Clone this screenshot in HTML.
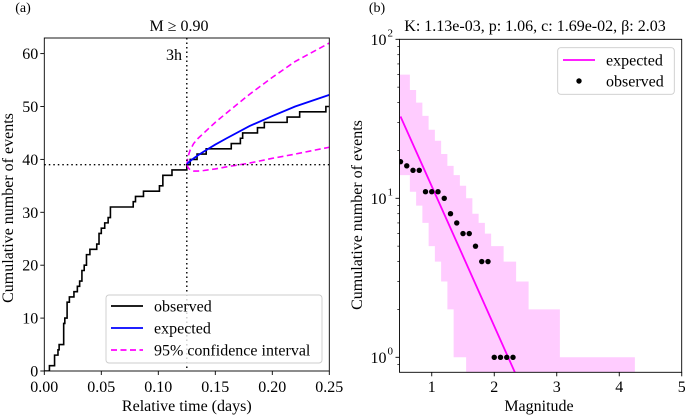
<!DOCTYPE html>
<html><head><meta charset="utf-8">
<style>
html,body{margin:0;padding:0;background:#fff;}
svg, svg text{font-family:"Liberation Serif","Times New Roman",serif;}
</style></head>
<body>
<svg id="fig" width="685" height="415" viewBox="0 0 685 415" xmlns="http://www.w3.org/2000/svg" font-family="Liberation Serif, serif">
<g id="left"></g>
<g id="right"></g>
</svg>
<script>
// ---- Panel (a) data ----
const obsCounts = [0,1,3,4,5,9,10,13,14,15,16,17,19,20,22,23,24,26,27,28,29,31,32,33,34,35,37,38,39,40,41,42,43,44,45,46,47,48,49,50];
const obsTimes  = [0,0.0045,0.009,0.012,0.013,0.017,0.018,0.020,0.022,0.026,0.029,0.031,0.033,0.035,0.037,0.040,0.046,0.048,0.050,0.053,0.056,0.058,0.078,0.080,0.087,0.101,0.104,0.112,0.125,0.128,0.134,0.142,0.164,0.172,0.174,0.187,0.193,0.213,0.224,0.247];
const fcTimes   = [0.125,0.126,0.128,0.131,0.135,0.14,0.15,0.16,0.18,0.20,0.22,0.25];
const expVals   = [39,39.3,39.7,40.2,40.8,41.5,42.8,44,46.3,48.2,50,52.2];
const upperVals = [39,40.5,41.8,43,44,45,47,48.8,52.3,55.5,58.5,62];
const lowerVals = [39,38.5,38,37.8,37.8,37.9,38.2,38.6,39.3,40.2,41,42.3];
const xTicksA = [0,0.05,0.10,0.15,0.20,0.25];
const xTickLabelsA = ["0.00","0.05","0.10","0.15","0.20","0.25"];
const yTicksA = [0,10,20,30,40,50,60];
const tCut = 0.125, nCut = 39;

// ---- Panel (b) data ----
const bandMags  = [0.5,0.6,0.7,0.8,0.9,1.0,1.1,1.2,1.3,1.4,1.5,1.6,1.7,1.8,1.9,2.0,2.1,2.2,2.3,2.4,2.5,2.6,2.7,2.8,2.9,3.0,3.1,3.2,3.3,3.4,3.5,3.6,3.7,3.8,3.9,4.0,4.1,4.2];
const bandUpper = [60,60,48,40,33,27,23,19,16,14,12,10,8,7,6,5,5,4,4,3,3,2,2,2,2,2,1,1,1,1,1,1,1,1,1,1,1,1];
const bandLower = [14,14,11,9,7,5,4,3,2,1,1,0.5,0.5,0.5,0.5,0.5,0.5,0.5,0.5,0.5,0.5,0.5,0.5,0.5,0.5,0.5,0.5,0.5,0.5,0.5,0.5,0.5,0.5,0.5,0.5,0.5,0.5,0.5];
const obsMags   = [0.5,0.6,0.7,0.8,0.9,1.0,1.1,1.2,1.3,1.4,1.5,1.6,1.7,1.8,1.9,2.0,2.1,2.2,2.3];
const obsN      = [17,16,15,15,11,11,11,10,8,7,6,6,5,4,4,1,1,1,1];
const expMags   = [0.5,1.0,1.5,2.0,2.5];
const expN      = [32.7,11.9,4.33,1.57,0.57];
const xTicksB = [1,2,3,4,5];
const yDecB = [0,1,2];

const NS="http://www.w3.org/2000/svg";
const FF="Liberation Serif, Times New Roman, serif";
function mk(parent,tag,attrs,text){const el=document.createElementNS(NS,tag);for(const k in attrs)el.setAttribute(k,attrs[k]);if(tag==='text')el.setAttribute('font-family',FF);if(text!==undefined)el.textContent=text;parent.appendChild(el);return el;}

// ===== Panel A =====
const A=document.getElementById('left');
const ax={l:44.3,r:329.3,t:38,b:371};
const xA=t=>ax.l+(t/0.25)*(ax.r-ax.l);
const yA=n=>371-n*5.29;
let cp=mk(A,'clipPath',{id:'clipA'});mk(cp,'rect',{x:ax.l,y:ax.t,width:ax.r-ax.l,height:ax.b-ax.t});
let stepD=`M${xA(obsTimes[0])},${yA(obsCounts[0])}`;
for(let i=1;i<obsTimes.length;i++){stepD+=` H${xA(obsTimes[i])} V${yA(obsCounts[i])}`;}
stepD+=` H${xA(0.25)}`;
let e=mk(A,'path',{d:stepD,fill:'none',stroke:'#000','stroke-width':1.6,'clip-path':'url(#clipA)'});

const lineA=(vals)=>fcTimes.map((t,i)=>`${i?'L':'M'}${xA(t)},${yA(vals[i])}`).join(' ');
e=mk(A,'path',{d:lineA(upperVals),fill:'none',stroke:'#ff00ff','stroke-width':1.6,'stroke-dasharray':'6,3.5'});

e=mk(A,'path',{d:lineA(lowerVals),fill:'none',stroke:'#ff00ff','stroke-width':1.6,'stroke-dasharray':'6,3.5'});

e=mk(A,'path',{d:lineA(expVals),fill:'none',stroke:'#0000ff','stroke-width':1.8});

e=mk(A,'line',{x1:xA(tCut),x2:xA(tCut),y1:ax.t,y2:ax.b,stroke:'#000','stroke-width':1.4,'stroke-dasharray':'1.5,3'});

e=mk(A,'line',{x1:ax.l,x2:ax.r,y1:yA(nCut),y2:yA(nCut),stroke:'#000','stroke-width':1.4,'stroke-dasharray':'1.5,3'});

e=mk(A,'rect',{x:ax.l,y:ax.t,width:ax.r-ax.l,height:ax.b-ax.t,fill:'none',stroke:'#000','stroke-width':0.9});

xTicksA.forEach((t,i)=>{mk(A,'line',{x1:xA(t),x2:xA(t),y1:ax.b,y2:ax.b+4,stroke:'#000','stroke-width':0.9});
 e=mk(A,'text',{x:xA(t),y:392,'text-anchor':'middle','font-size':16},xTickLabelsA[i]);
 });
yTicksA.forEach(v=>{mk(A,'line',{x1:ax.l-4,x2:ax.l,y1:yA(v),y2:yA(v),stroke:'#000','stroke-width':0.9});
 e=mk(A,'text',{x:ax.l-6,y:yA(v)+5.5,'text-anchor':'end','font-size':16},String(v));
 });
e=mk(A,'text',{x:(ax.l+ax.r)/2,y:411,'text-anchor':'middle','font-size':16},'Relative time (days)');

e=mk(A,'text',{x:0,y:0,'text-anchor':'middle','font-size':16,transform:'translate(13,208) rotate(-90)'},'Cumulative number of events');

e=mk(A,'text',{x:179,y:31,'text-anchor':'middle','font-size':16},'M ≥ 0.90');

e=mk(A,'text',{x:23,y:12,'text-anchor':'middle','font-size':14},'(a)');

e=mk(A,'text',{x:182,y:60,'text-anchor':'end','font-size':16},'3h');

let lg=mk(A,'g',{});

mk(lg,'rect',{x:106,y:295,width:216,height:68,rx:3,fill:'#fff','fill-opacity':0.8,stroke:'#ccc','stroke-width':0.9});
const legA=[['observed','#000',''],['expected','#0000ff',''],['95% confidence interval','#ff00ff','6,3.5']];
legA.forEach((L,i)=>{const yy=306+i*22;
 const gg=mk(lg,'g',{});
 mk(gg,'line',{x1:111,x2:143,y1:yy,y2:yy,stroke:L[1],'stroke-width':1.8,'stroke-dasharray':L[2]||'none'});
 mk(gg,'text',{x:154,y:yy+5.5,'font-size':16},L[0]);});

// ===== Panel B =====
const B=document.getElementById('right');
const bx={l:399.5,r:681.7,t:39.3,b:372.3};
const xB=m=>400.5+(m-0.5)*62.5;
const yB=v=>357.3-Math.log10(v)*159;
cp=mk(B,'clipPath',{id:'clipB'});mk(cp,'rect',{x:bx.l,y:bx.t,width:bx.r-bx.l,height:bx.b-bx.t});
const gB=mk(B,'g',{'clip-path':'url(#clipB)'});
let bandTop='',bandBot='';
bandMags.forEach((m,i)=>{const x0=xB(m-0.05),x1=xB(m+0.05);
 bandTop+=`${i?'L':'M'}${x0},${yB(bandUpper[i])} L${x1},${yB(bandUpper[i])} `;});
for(let i=bandMags.length-1;i>=0;i--){const m=bandMags[i];bandBot+=`L${xB(m+0.05)},${yB(bandLower[i])} L${xB(m-0.05)},${yB(bandLower[i])} `;}
e=mk(gB,'path',{d:bandTop+bandBot+'Z',fill:'#ffccff',stroke:'none'});

e=mk(gB,'path',{d:expMags.map((m,i)=>`${i?'L':'M'}${xB(m)},${yB(expN[i])}`).join(' '),fill:'none',stroke:'#ff00ff','stroke-width':1.8});

obsMags.forEach((m,i)=>{e=mk(gB,'circle',{cx:xB(m),cy:yB(obsN[i]),r:2.7,fill:'#000'});
 });
e=mk(B,'rect',{x:bx.l,y:bx.t,width:bx.r-bx.l,height:bx.b-bx.t,fill:'none',stroke:'#000','stroke-width':0.9});

xTicksB.forEach(t=>{mk(B,'line',{x1:xB(t),x2:xB(t),y1:bx.b,y2:bx.b+4,stroke:'#000','stroke-width':0.9});
 e=mk(B,'text',{x:xB(t),y:392,'text-anchor':'middle','font-size':16},String(t));
 });
yDecB.forEach(p=>{const y=yB(Math.pow(10,p));
 mk(B,'line',{x1:bx.l-4,x2:bx.l,y1:y,y2:y,stroke:'#000','stroke-width':0.9});
 e=mk(B,'text',{x:bx.l-13,y:y+5.5,'text-anchor':'end','font-size':16},'10');
 
 mk(B,'text',{x:bx.l-12,y:y-3,'font-size':11},String(p));});
for(let p=-1;p<2;p++)for(let k=2;k<10;k++){const y=yB(k*Math.pow(10,p));if(y<bx.t||y>bx.b)continue;
 mk(B,'line',{x1:bx.l-2.2,x2:bx.l,y1:y,y2:y,stroke:'#000','stroke-width':0.7});}
e=mk(B,'text',{x:539,y:411,'text-anchor':'middle','font-size':16},'Magnitude');

e=mk(B,'text',{x:0,y:0,'text-anchor':'middle','font-size':16,transform:'translate(362,215) rotate(-90)'},'Cumulative number of events');

e=mk(B,'text',{x:535,y:31,'text-anchor':'middle','font-size':16},'K: 1.13e-03, p: 1.06, c: 1.69e-02, β: 2.03');

e=mk(B,'text',{x:377,y:12,'text-anchor':'middle','font-size':14},'(b)');

lg=mk(B,'g',{});

mk(lg,'rect',{x:557.7,y:47.7,width:116.6,height:46.6,rx:3,fill:'#fff','fill-opacity':0.8,stroke:'#ccc','stroke-width':0.9});
let lgE=mk(lg,'g',{});
mk(lgE,'line',{x1:563,x2:595,y1:60,y2:60,stroke:'#ff00ff','stroke-width':1.8});
mk(lgE,'text',{x:606,y:65.5,'font-size':16},'expected');
lgE=mk(lg,'g',{});
mk(lgE,'circle',{cx:579,cy:81,r:2.7,fill:'#000'});
mk(lgE,'text',{x:606,y:86.5,'font-size':16},'observed');
</script>
</body></html>
